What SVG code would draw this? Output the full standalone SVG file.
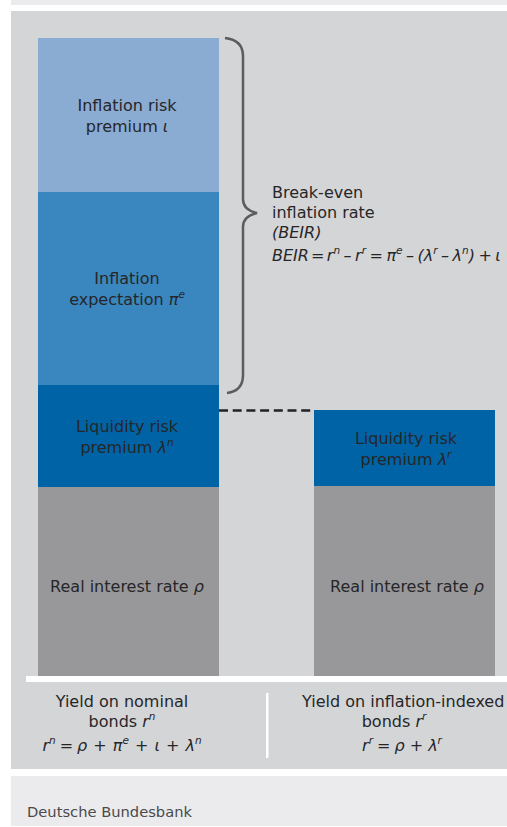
<svg xmlns="http://www.w3.org/2000/svg" width="507" height="827" viewBox="0 0 507 827">
  <style>
    .t{font-family:"DejaVu Sans","Noto Sans",sans-serif;font-size:16px;fill:#262628;text-anchor:middle}
    .s{text-anchor:start}
    .i{font-style:italic}
    .n{font-style:normal}
    .sp{font-size:10.5px;font-style:italic}
    .foot{font-family:"DejaVu Sans","Noto Sans",sans-serif;font-size:14.7px;fill:#4a4a4c}
    .brace{fill:none;stroke:#5c5c5e;stroke-width:2.5}
    .dash{fill:none;stroke:#222224;stroke-width:2.5;stroke-dasharray:9 4.7}
  </style>

  <!-- background panels -->
  <rect x="11" y="0" width="496" height="5" fill="#ebebed"/>
  <rect x="11" y="11" width="496" height="758" fill="#d4d5d7"/>
  <rect x="11" y="776" width="496" height="50" fill="#ebebed"/>
  <rect x="26" y="676" width="481" height="6" fill="#ffffff"/>
  <rect x="266" y="693" width="2.5" height="65" fill="#ffffff"/>

  <!-- nominal bond yield stack -->
  <g id="inflation-risk-premium">
    <rect x="38" y="38" width="181" height="154" fill="#8aabd2"/>
    <text class="t" x="127" y="111">Inflation risk</text>
    <text class="t" x="127" y="132">premium <tspan class="i">ι</tspan></text>
  </g>
  <g id="inflation-expectation">
    <rect x="38" y="192" width="181" height="193" fill="#3a86bf"/>
    <text class="t" x="127" y="284">Inflation</text>
    <text class="t" x="127" y="305">expectation <tspan class="i">π</tspan><tspan class="sp" dy="-7">e</tspan></text>
  </g>
  <g id="liquidity-premium-nominal">
    <rect x="38" y="385" width="181" height="102" fill="#0063a6"/>
    <text class="t" x="127" y="432">Liquidity risk</text>
    <text class="t" x="127" y="453">premium <tspan class="i">λ</tspan><tspan class="sp" dy="-7">n</tspan></text>
  </g>
  <g id="real-rate-nominal">
    <rect x="38" y="487" width="181" height="189" fill="#98989b"/>
    <text class="t" x="127" y="592">Real interest rate <tspan class="i">ρ</tspan></text>
  </g>

  <!-- inflation-indexed bond yield stack -->
  <g id="liquidity-premium-indexed">
    <rect x="314" y="410" width="181" height="76" fill="#0063a6"/>
    <text class="t" x="406" y="444">Liquidity risk</text>
    <text class="t" x="406" y="465">premium <tspan class="i">λ</tspan><tspan class="sp" dy="-7">r</tspan></text>
  </g>
  <g id="real-rate-indexed">
    <rect x="314" y="486" width="181" height="190" fill="#98989b"/>
    <text class="t" x="407" y="592">Real interest rate <tspan class="i">ρ</tspan></text>
  </g>

  <!-- break-even inflation rate annotation -->
  <g id="beir-label">
    <text class="t s" x="272" y="198">Break-even</text>
    <text class="t s" x="272" y="218">inflation rate</text>
    <text class="t s i" x="272" y="238">(BEIR)</text>
    <text class="t s i" x="272" y="261">BEIR<tspan class="n" dx="2">=</tspan><tspan dx="2.5">r</tspan><tspan class="sp" dy="-7">n</tspan><tspan dy="7" dx="3.5">–</tspan><tspan dx="3.5">r</tspan><tspan class="sp" dy="-7">r</tspan><tspan class="n" dy="7" dx="3.5">=</tspan><tspan dx="3.5">π</tspan><tspan class="sp" dy="-7">e</tspan><tspan dy="7" dx="3.5">–</tspan><tspan dx="3.5">(λ</tspan><tspan class="sp" dy="-7">r</tspan><tspan dy="7" dx="3.5">–</tspan><tspan dx="3.5">λ</tspan><tspan class="sp" dy="-7">n</tspan><tspan dy="7">)</tspan><tspan class="n" dx="3.5">+</tspan><tspan dx="3.5">ι</tspan></text>
  </g>

  <!-- column captions -->
  <g id="caption-nominal">
    <text class="t" x="122" y="707">Yield on nominal</text>
    <text class="t" x="122" y="727">bonds <tspan class="i">r</tspan><tspan class="sp" dy="-7">n</tspan></text>
    <text class="t i" x="122" y="751">r<tspan class="sp" dy="-7">n</tspan><tspan dy="7" dx="4" class="n">=</tspan><tspan dx="4">ρ</tspan><tspan class="n" dx="1"> + </tspan><tspan dx="1">π</tspan><tspan class="sp" dy="-7">e</tspan><tspan dy="7" dx="1" class="n"> + </tspan><tspan dx="1">ι</tspan><tspan class="n" dx="1"> + </tspan><tspan dx="1">λ</tspan><tspan class="sp" dy="-7">n</tspan></text>
  </g>
  <g id="caption-indexed">
    <text class="t s" x="302" y="707">Yield on inflation-indexed</text>
    <text class="t" x="394" y="727">bonds <tspan class="i">r</tspan><tspan class="sp" dy="-7">r</tspan></text>
    <text class="t i" x="402" y="751">r<tspan class="sp" dy="-7">r</tspan><tspan dy="7" dx="4" class="n">=</tspan><tspan dx="4">ρ</tspan><tspan class="n"> + </tspan>λ<tspan class="sp" dy="-7">r</tspan></text>
  </g>

  <!-- connectors: brace and liquidity-level guide -->
  <g id="connectors">
    <path class="brace" d="M225,38 Q243,40 243,56 L243,199 Q243,210 257,213 Q243,216 243,227 L243,375 Q243,391 227,393"/>
    <path class="dash" d="M219,410.5 H314"/>
  </g>

  <text class="foot" x="27" y="817">Deutsche Bundesbank</text>
</svg>
